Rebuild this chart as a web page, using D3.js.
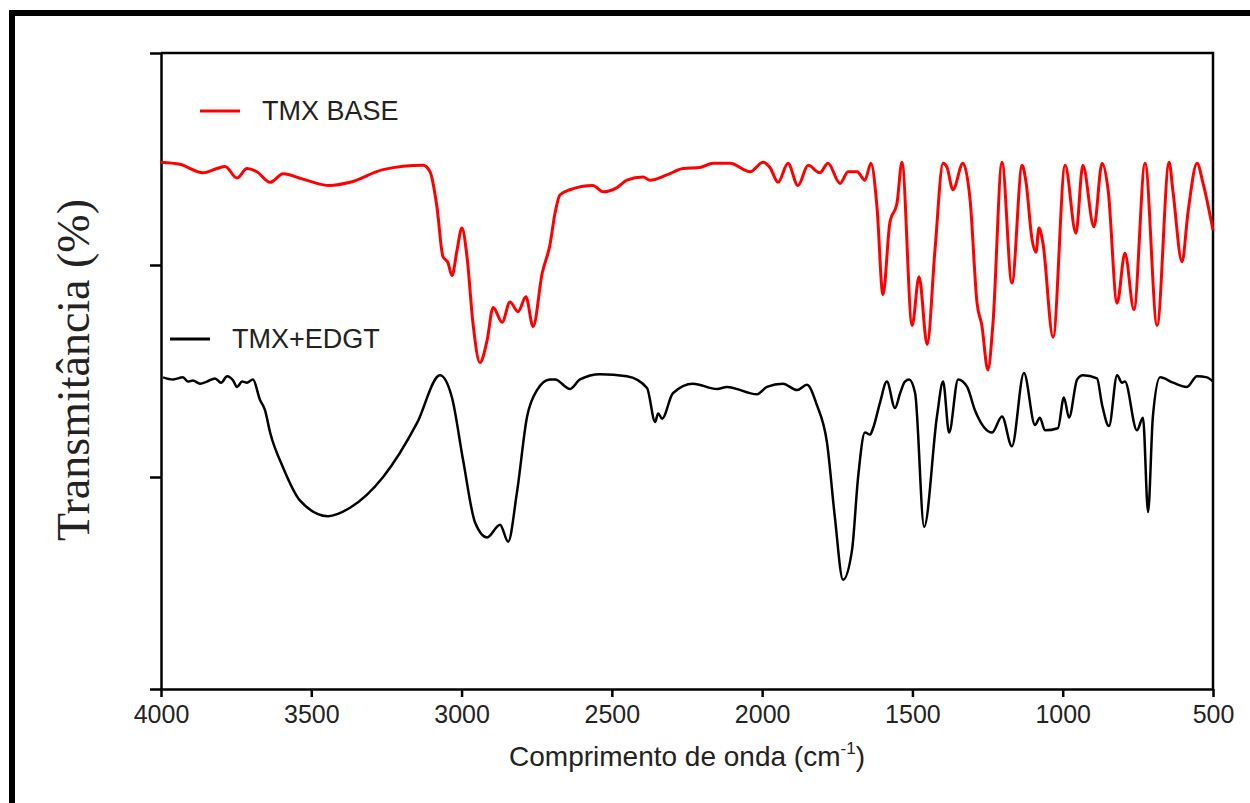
<!DOCTYPE html>
<html>
<head>
<meta charset="utf-8">
<script src="https://cdn.jsdelivr.net/npm/d3@7/dist/d3.min.js"></script>
<style>
  body { margin: 0; background: #fff; }
  svg { display: block; }
</style>
</head>
<body>
<script>
// espectros FTIR: [numero de onda (cm-1), transmitancia]
var tmxBase = [
  [4000,49.7],[3937,49.5],[3860,48.7],[3814,49.1],[3787,49.3],[3747,48.2],[3714,49.1],
  [3681,48.8],[3637,47.8],[3594,48.6],[3528,48.1],[3438,47.5],[3371,47.8],[3261,49.0],
  [3128,49.4],[3105,48.8],[3082,45.5],[3062,40.8],[3045,40.2],[3032,39.0],[3015,41.4],
  [2999,43.5],[2982,40.8],[2962,34.5],[2939,30.8],[2915,32.9],[2895,36.0],[2865,34.6],
  [2839,36.5],[2812,35.6],[2786,37.0],[2762,34.2],[2732,39.2],[2706,41.9],[2689,44.9],
  [2673,46.6],[2639,47.1],[2563,47.5],[2529,46.9],[2483,47.3],[2450,48.0],[2396,48.3],
  [2373,48.0],[2317,48.5],[2263,49.1],[2207,49.2],[2163,49.6],[2107,49.6],[2040,48.8],
  [1997,49.7],[1974,49.2],[1947,47.8],[1914,49.6],[1881,47.5],[1847,49.4],[1808,48.7],
  [1781,49.6],[1741,47.7],[1714,48.8],[1684,48.8],[1658,48.0],[1638,49.6],[1618,45.5],
  [1598,37.2],[1575,44.0],[1551,45.9],[1535,49.7],[1501,34.3],[1478,38.9],[1451,32.5],
  [1425,41.4],[1398,49.6],[1385,49.2],[1365,47.1],[1332,49.6],[1308,46.1],[1285,36.4],
  [1269,34.3],[1249,30.1],[1232,34.5],[1202,49.7],[1169,38.3],[1135,49.4],[1122,47.8],
  [1102,42.4],[1089,41.2],[1079,43.5],[1066,42.1],[1032,33.2],[992,49.4],[956,43.0],
  [933,49.4],[896,43.6],[869,49.6],[849,47.1],[819,36.4],[793,41.1],[763,35.8],
  [726,49.6],[686,34.3],[646,49.7],[633,46.9],[603,40.3],[583,45.0],[553,49.6],
  [533,47.7],[500,43.3]
];

var tmxEdgt = [
  [3993,29.4],[3960,29.2],[3927,29.4],[3910,29.0],[3894,29.1],[3870,28.8],[3847,29.0],
  [3820,29.3],[3800,28.9],[3780,29.5],[3760,29.1],[3747,28.5],[3730,29.0],[3714,28.9],
  [3694,29.2],[3671,27.3],[3654,26.3],[3637,24.2],[3594,20.9],[3538,17.8],[3444,16.3],
  [3371,17.1],[3261,20.0],[3148,25.1],[3072,29.6],[3032,27.5],[2995,21.6],[2955,15.7],
  [2915,14.3],[2872,15.5],[2845,13.9],[2816,18.5],[2782,25.7],[2749,28.2],[2706,29.2],
  [2689,29.2],[2639,28.3],[2606,29.2],[2539,29.7],[2450,29.5],[2383,28.4],[2356,25.2],
  [2346,26.0],[2333,25.5],[2297,27.9],[2230,28.8],[2150,28.3],[2117,28.5],[2017,27.8],
  [1984,28.5],[1931,28.8],[1884,28.2],[1851,28.7],[1818,26.8],[1784,23.2],[1758,16.2],
  [1731,10.3],[1701,13.1],[1681,19.9],[1658,24.2],[1641,24.0],[1631,24.6],[1608,27.0],
  [1585,29.0],[1558,26.5],[1541,27.9],[1525,29.0],[1511,29.2],[1491,27.9],[1461,15.3],
  [1418,25.8],[1398,29.0],[1378,24.2],[1348,29.2],[1318,28.5],[1292,26.3],[1235,24.2],
  [1202,25.7],[1169,22.9],[1129,29.8],[1092,24.9],[1076,25.6],[1059,24.4],[1016,24.6],
  [996,27.5],[979,25.6],[952,29.2],[933,29.6],[886,29.3],[869,26.8],[846,24.8],
  [819,29.6],[803,28.9],[793,29.0],[753,24.4],[733,25.6],[716,16.7],[700,25.7],
  [676,29.4],[633,28.9],[587,28.5],[553,29.5],[520,29.4],[500,29.0]
];

var xTicks = [4000, 3500, 3000, 2500, 2000, 1500, 1000, 500];
var yTicks = [0, 20, 40, 60];
var seriesNames = ['TMX BASE', 'TMX+EDGT'];

var width = 1250, height = 803;
var margin = {left: 161, right: 37, top: 53, bottom: 114};

var svg = d3.select('body').append('svg')
  .attr('width', width)
  .attr('height', height);

// moldura externa
svg.append('rect')
  .attr('x', 12).attr('y', 13)
  .attr('width', 1300).attr('height', 900)
  .attr('fill', 'none')
  .attr('stroke', '#000')
  .attr('stroke-width', 6);

var xScale = d3.scaleLinear()
  .domain([4000, 500])
  .range([margin.left, width - margin.right]);

var yScale = d3.scaleLinear()
  .domain([0, 60])
  .range([height - margin.bottom, margin.top]);

// borda superior e direita do grafico
svg.append('path')
  .attr('d', 'M' + xScale(4000) + ',' + yScale(60) + 'H' + xScale(500) + 'V' + yScale(0))
  .attr('fill', 'none')
  .attr('stroke', '#000')
  .attr('stroke-width', 2.5);

var xAxis = d3.axisBottom(xScale)
  .tickValues(xTicks)
  .tickFormat(d3.format('d'))
  .tickSize(8)
  .tickSizeOuter(0);

var yAxis = d3.axisLeft(yScale)
  .tickValues(yTicks)
  .tickFormat('')
  .tickSize(11)
  .tickSizeOuter(0);

var gx = svg.append('g')
  .attr('transform', 'translate(0,' + yScale(0) + ')')
  .call(xAxis);
gx.select('.domain').attr('stroke-width', 2.5);
gx.selectAll('.tick line').attr('stroke-width', 2.5);
gx.selectAll('.tick text')
  .attr('dy', 0)
  .attr('y', 34)
  .style('font-family', 'Liberation Sans, Arial, sans-serif')
  .style('font-size', '25px')
  .attr('fill', '#222');

var gy = svg.append('g')
  .attr('transform', 'translate(' + xScale(4000) + ',0)')
  .call(yAxis);
gy.select('.domain').attr('stroke-width', 2.5);
gy.selectAll('.tick line').attr('stroke-width', 2.5);

// rotulos dos eixos
var xl = svg.append('text')
  .attr('x', (xScale(4000) + xScale(500)) / 2)
  .attr('y', 766)
  .attr('text-anchor', 'middle')
  .style('font-family', 'Liberation Sans, Arial, sans-serif')
  .style('font-size', '28px')
  .attr('fill', '#222');
xl.append('tspan').text('Comprimento de onda (cm');
xl.append('tspan').attr('dy', -12).style('font-size', '17px').text('-1');
xl.append('tspan').attr('dy', 12).text(')');

svg.append('text')
  .attr('transform', 'translate(89,370) rotate(-90)')
  .attr('text-anchor', 'middle')
  .style('font-family', 'Liberation Serif, Times New Roman, serif')
  .style('font-size', '46px')
  .attr('fill', '#222')
  .text('Transmitância (%)');

var line = d3.line()
  .x(function(d){ return xScale(d[0]); })
  .y(function(d){ return yScale(d[1]); })
  .curve(d3.curveMonotoneX);

svg.append('path')
  .datum(tmxEdgt)
  .attr('d', line)
  .attr('fill', 'none')
  .attr('stroke', '#000')
  .attr('stroke-width', 2.5)
  .attr('stroke-linejoin', 'round');

svg.append('path')
  .datum(tmxBase)
  .attr('d', line)
  .attr('fill', 'none')
  .attr('stroke', '#ff0000')
  .attr('stroke-width', 3)
  .attr('stroke-linejoin', 'round');

// legendas
var legend = [
  {name: seriesNames[0], color: '#ff0000', x1: 200, x2: 240, tx: 262, y: 111},
  {name: seriesNames[1], color: '#000', x1: 170, x2: 210, tx: 232, y: 339}
];
legend.forEach(function(l){
  svg.append('line')
    .attr('x1', l.x1).attr('x2', l.x2)
    .attr('y1', l.y).attr('y2', l.y)
    .attr('stroke', l.color)
    .attr('stroke-width', 3);
  svg.append('text')
    .attr('x', l.tx)
    .attr('y', l.y + 9)
    .style('font-family', 'Liberation Sans, Arial, sans-serif')
    .style('font-size', '27px')
    .attr('fill', '#222')
    .text(l.name);
});
</script>
</body>
</html>
